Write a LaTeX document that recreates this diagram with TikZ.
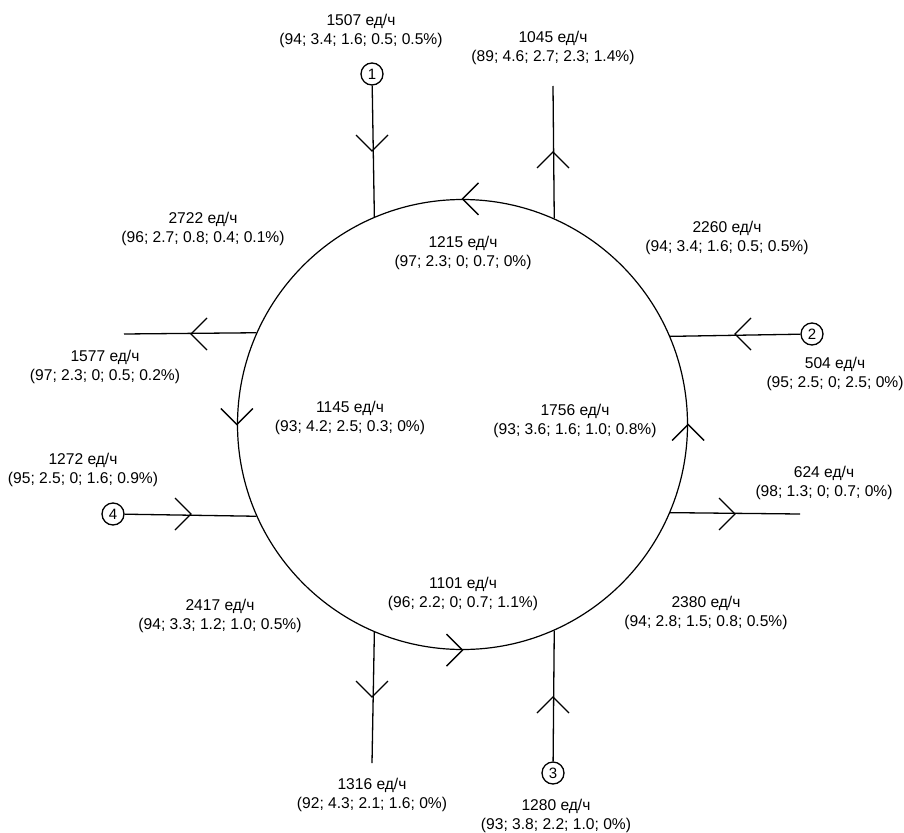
\documentclass[tikz,border=0pt]{standalone}
\usepackage{fontspec}
\setmainfont{Liberation Sans}
\begin{document}
\begin{tikzpicture}[x=1pt,y=-1pt,line width=1.3pt,
  chev/.pic={\draw[line width=1.3pt] (-16,-16) -- (0,0) -- (-16,16);},
  lab/.style={align=center,font=\fontsize{15.6}{19}\selectfont,inner sep=0pt},
  numc/.style={draw,circle,minimum size=22pt,inner sep=0pt,font=\fontsize{15}{18}\selectfont}]
\useasboundingbox (0,0) rectangle (904,832);
\node[draw,circle,minimum size=450pt,inner sep=0pt,line width=1.2pt] (R) at (462.5,424.5) {};
% numbered nodes
\node[numc] (n1) at (372,74) {1};
\node[numc] (n2) at (812,334) {2};
\node[numc] (n3) at (553,773) {3};
\node[numc] (n4) at (113,514) {4};
% free ends
\coordinate (eT) at (553,86);
\coordinate (eL) at (124,334);
\coordinate (eR) at (800,514);
\coordinate (eB) at (372,763);
% connectors
\draw (n1) -- (R.113.7);
\draw (R.66.3) -- (eT);
\draw (n2) -- (R.23.7);
\draw (R.-23.7) -- (eR);
\draw (n3) -- (R.-66.3);
\draw (R.-113.7) -- (eB);
\draw (n4) -- (R.-156.3);
\draw (R.156.3) -- (eL);
% chevrons on branches
\pic[rotate=-90] at (372,151) {chev};
\pic[rotate=90] at (553,152) {chev};
\pic[rotate=180] at (735,334) {chev};
\pic at (735,514) {chev};
\pic[rotate=180] at (191,334) {chev};
\pic at (191,514) {chev};
\pic[rotate=-90] at (372,697) {chev};
\pic[rotate=90] at (553,697) {chev};
% chevrons on ring
\pic[rotate=180] at (R.north) {chev};
\pic[rotate=-90] at (R.west) {chev};
\pic at (R.south) {chev};
\pic[rotate=90] at (R.east) {chev};
% labels
\node[lab] (l1507) at (361,31) {1507 ед/ч\\(94; 3.4; 1.6; 0.5; 0.5\%)};
\node[lab] (l1045) at (553,48) {1045 ед/ч\\(89; 4.6; 2.7; 2.3; 1.4\%)};
\node[lab] (l2722) at (203,229) {2722 ед/ч\\(96; 2.7; 0.8; 0.4; 0.1\%)};
\node[lab] (l1215) at (463,253) {1215 ед/ч\\(97; 2.3; 0; 0.7; 0\%)};
\node[lab] (l2260) at (727,238) {2260 ед/ч\\(94; 3.4; 1.6; 0.5; 0.5\%)};
\node[lab] (l504) at (835,374) {504 ед/ч\\(95; 2.5; 0; 2.5; 0\%)};
\node[lab] (l1577) at (105,367) {1577 ед/ч\\(97; 2.3; 0; 0.5; 0.2\%)};
\node[lab] (l1145) at (350,418) {1145 ед/ч\\(93; 4.2; 2.5; 0.3; 0\%)};
\node[lab] (l1756) at (575,421) {1756 ед/ч\\(93; 3.6; 1.6; 1.0; 0.8\%)};
\node[lab] (l1272) at (83,470) {1272 ед/ч\\(95; 2.5; 0; 1.6; 0.9\%)};
\node[lab] (l624) at (824,483) {624 ед/ч\\(98; 1.3; 0; 0.7; 0\%)};
\node[lab] (l1101) at (463,594) {1101 ед/ч\\(96; 2.2; 0; 0.7; 1.1\%)};
\node[lab] (l2417) at (220,616) {2417 ед/ч\\(94; 3.3; 1.2; 1.0; 0.5\%)};
\node[lab] (l2380) at (706,613) {2380 ед/ч\\(94; 2.8; 1.5; 0.8; 0.5\%)};
\node[lab] (l1316) at (372,795) {1316 ед/ч\\(92; 4.3; 2.1; 1.6; 0\%)};
\node[lab] (l1280) at (556,816) {1280 ед/ч\\(93; 3.8; 2.2; 1.0; 0\%)};
\end{tikzpicture}
\end{document}
